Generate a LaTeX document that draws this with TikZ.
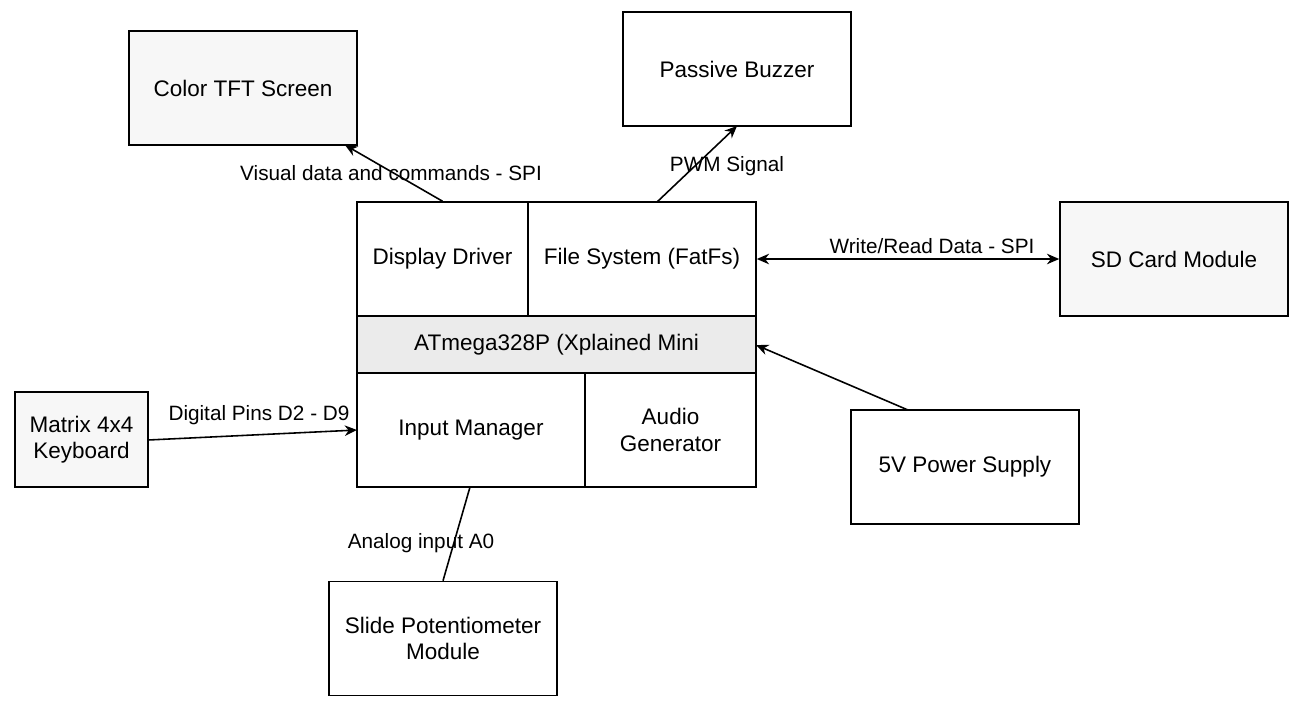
\documentclass[tikz,border=0pt]{standalone}
\usepackage{fontspec}
\setmainfont{Liberation Sans}
\usetikzlibrary{arrows.meta}
\tikzset{
  blk/.style={draw, line width=0.9pt, align=center, font=\fontsize{12.8}{15}\selectfont},
  lbl/.style={font=\fontsize{11.8}{13}\selectfont, inner sep=1pt},
  line/.style={draw, line width=0.9pt, -{Stealth[length=7pt,width=6pt]}},
}
\begin{document}
\begin{tikzpicture}
	\useasboundingbox (0,0) rectangle (25.9,-14.1);
	% ------------------- Boxes ------------------- %
	\node[blk, fill=black!3, minimum width=4.56cm, minimum height=2.28cm] (tft) at (4.86,-1.76) {Color TFT Screen};
	\node[blk, minimum width=4.56cm, minimum height=2.28cm] (buzz) at (14.74,-1.38) {Passive Buzzer};
	\node[blk, minimum width=3.42cm, minimum height=2.28cm] (disp) at (8.85,-5.18) {Display Driver};
	\node[blk, minimum width=4.56cm, minimum height=2.28cm] (fs) at (12.84,-5.18) {File System (FatFs)};
	\node[blk, fill=black!8, minimum width=7.98cm, minimum height=1.14cm] (mcu) at (11.13,-6.89) {ATmega328P (Xplained Mini};
	\node[blk, minimum width=4.56cm, minimum height=2.28cm] (inp) at (9.42,-8.6) {Input Manager};
	\node[blk, minimum width=3.42cm, minimum height=2.28cm] (aud) at (13.41,-8.6) {Audio\\Generator};
	\node[blk, fill=black!3, minimum width=4.56cm, minimum height=2.28cm] (sd) at (23.48,-5.18) {SD Card Module};
	\node[blk, minimum width=4.56cm, minimum height=2.28cm] (pwr) at (19.3,-9.34) {5V Power Supply};
	\node[blk, fill=black!3, minimum width=2.66cm, minimum height=1.9cm] (kbd) at (1.63,-8.79) {Matrix 4x4\\Keyboard};
	\node[blk, minimum width=4.56cm, minimum height=2.28cm] (pot) at (8.86,-12.77) {Slide Potentiometer\\Module};
	% ------------------- Connectors ------------------- %
	\coordinate (tftend) at (6.9,-2.9);
	\coordinate (buzzend) at (14.74,-2.52);
	\coordinate (fsout) at (13.14,-4.04);
	\coordinate (mcuend) at (15.12,-6.9);
	\coordinate (pwrout) at (18.16,-8.2);
	\coordinate (kbdout) at (2.96,-8.8);
	\coordinate (inpend) at (9.4,-9.74);
	\coordinate (inpin) at (7.14,-8.6);
	\draw[line] (disp.north) -- (tftend);
	\draw[line] (fsout) -- (buzzend);
	\draw[line, {Stealth[length=7pt,width=6pt]}-{Stealth[length=7pt,width=6pt]}] (fs.east) -- (sd.west);
	\draw[line] (pwrout) -- (mcuend);
	\draw[line] (kbdout) -- (inpin);
	\draw[line width=0.9pt] (pot.north) -- (inpend);
	% ------------------- Labels ------------------- %
	\node[lbl] at (7.82,-3.46) {Visual data and commands - SPI};
	\node[lbl] at (14.54,-3.32) {PWM Signal};
	\node[lbl] at (18.64,-4.92) {Write/Read Data - SPI};
	\node[lbl] at (5.18,-8.3) {Digital Pins D2 - D9};
	\node[lbl] at (8.42,-10.86) {Analog input A0};
\end{tikzpicture}
\end{document}
